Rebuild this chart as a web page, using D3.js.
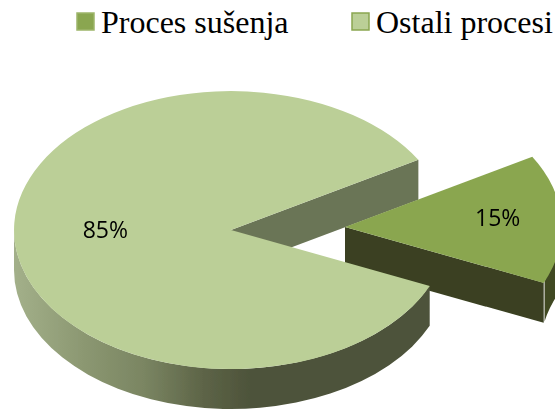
<!DOCTYPE html>
<html>
<head>
<meta charset="utf-8">
<script src="https://cdn.jsdelivr.net/npm/d3@7"></script>
<style>
  html, body { margin: 0; padding: 0; background: #fff; }
  svg { display: block; }
</style>
</head>
<body>
<div id="chart"></div>
<script>
// data
var categories = ["Proces sušenja", "Ostali procesi"];
var values = [15, 85];
var labels = ["15%", "85%"];
var fills = ["#8aa650", "#bbcf97"];

var width = 555, height = 410;

// pie geometry, the 3d look is an ellipse plus a wall of some depth
var cx = 231, cy = 230, rx = 217, ry = 139, depth = 40;
var explode = { dx: 114, dy: -3 };
var rad = Math.PI / 180;
var start = 59.7 * rad;

var svg = d3.select("#chart").append("svg")
    .attr("width", width)
    .attr("height", height)
    .attr("viewBox", `0 0 ${width} ${height}`);

var defs = svg.append("defs");

// side of the big slice gets lighter towards the left
var wallGrad = defs.append("linearGradient")
    .attr("id", "wallGrad")
    .attr("gradientUnits", "userSpaceOnUse")
    .attr("x1", cx - rx).attr("x2", cx + 20)
    .attr("y1", 0).attr("y2", 0);
wallGrad.selectAll("stop")
    .data([[0, "#a3b08a"], [0.3, "#8b9771"], [0.55, "#7a8562"], [0.8, "#5d6447"], [1, "#4d533a"]])
    .enter().append("stop")
    .attr("offset", function (d) { return d[0]; })
    .attr("stop-color", function (d) { return d[1]; });

var blur = defs.append("filter").attr("id", "soft");
blur.append("feGaussianBlur").attr("stdDeviation", 0.35);

var pie = d3.pie().sort(null).startAngle(start).endAngle(start + 2 * Math.PI);
var arcs = pie(values);

// top face drawn with a unit arc, squashed by the transform
var arc = d3.arc().innerRadius(0).outerRadius(1);

// x and y on the ellipse for a d3 pie angle
function px(a, ox) { return ox + rx * Math.sin(a); }
function py(a, oy) { return oy - ry * Math.cos(a); }

// outer wall between two angles
function wallPath(a0, a1, ox, oy) {
    var large = (a1 - a0) > Math.PI ? 1 : 0;
    var s = `M${px(a0, ox)},${py(a0, oy)}`;
    s += `A${rx},${ry} 0 ${large} 1 ${px(a1, ox)},${py(a1, oy)}`;
    s += `L${px(a1, ox)},${py(a1, oy) + depth}`;
    s += `A${rx},${ry} 0 ${large} 0 ${px(a0, ox)},${py(a0, oy) + depth}Z`;
    return s;
}

// flat wall along a cut edge, apex out to the rim
function cutPath(a, ox, oy) {
    return `M${ox},${oy}L${px(a, ox)},${py(a, oy)}L${px(a, ox)},${py(a, oy) + depth}L${ox},${oy + depth}Z`;
}

var small = arcs[0], big = arcs[1];
var sx = cx + explode.dx, sy = cy + explode.dy;
var g = svg.append("g").attr("filter", "url(#soft)");

// big slice, cut wall seen through the notch
g.append("path")
    .attr("d", cutPath(big.endAngle, cx, cy))
    .attr("fill", "#6b7556");

// exploded slice walls and top
g.append("path")
    .attr("d", wallPath(small.endAngle - 0.01, Math.PI * 0.5 + 0.2, sx, sy))
    .attr("fill", "#404824");
g.append("path")
    .attr("d", cutPath(small.endAngle, sx, sy))
    .attr("fill", "#3a4120");
g.append("path")
    .attr("d", arc(small))
    .attr("transform", `translate(${sx} ${sy}) scale(${rx} ${ry})`)
    .attr("fill", fills[0]);

// big slice outer wall, only the front part shows
g.append("path")
    .attr("d", wallPath(big.startAngle, 270 * rad, cx, cy))
    .attr("fill", "url(#wallGrad)");
g.append("path")
    .attr("d", arc(big))
    .attr("transform", `translate(${cx} ${cy}) scale(${rx} ${ry})`)
    .attr("fill", fills[1]);

// slice labels
svg.append("g").selectAll("text")
    .data(arcs)
    .enter().append("text")
    .attr("x", function (d, i) {
        var r = i === 0 ? 0.705 : 0.58;
        return (i === 0 ? sx : cx) + rx * r * Math.sin((d.startAngle + d.endAngle) / 2);
    })
    .attr("y", function (d, i) {
        return i === 0 ? 226 : 238;
    })
    .attr("text-anchor", "middle")
    .style("font-family", "'Open Sans', sans-serif")
    .style("font-size", "23px")
    .attr("fill", "#000")
    .text(function (d, i) { return labels[i]; });

// legend
var legendX = d3.scaleOrdinal().domain(categories).range([76, 351]);
var legend = svg.append("g").selectAll("g")
    .data(categories)
    .enter().append("g")
    .attr("transform", function (d) { return `translate(${legendX(d)} 0)`; });

legend.append("rect")
    .attr("x", 1).attr("y", 13)
    .attr("width", 17).attr("height", 17)
    .attr("fill", function (d, i) { return fills[i]; })
    .attr("stroke", function (d, i) { return i === 0 ? "#9db56a" : "#8aa650"; })
    .attr("stroke-width", 1.5);

legend.append("text")
    .attr("x", 25)
    .attr("y", 33)
    .style("font-family", "'Liberation Serif', serif")
    .style("font-size", "32px")
    .attr("fill", "#000")
    .text(function (d) { return d; });
</script>
</body>
</html>
